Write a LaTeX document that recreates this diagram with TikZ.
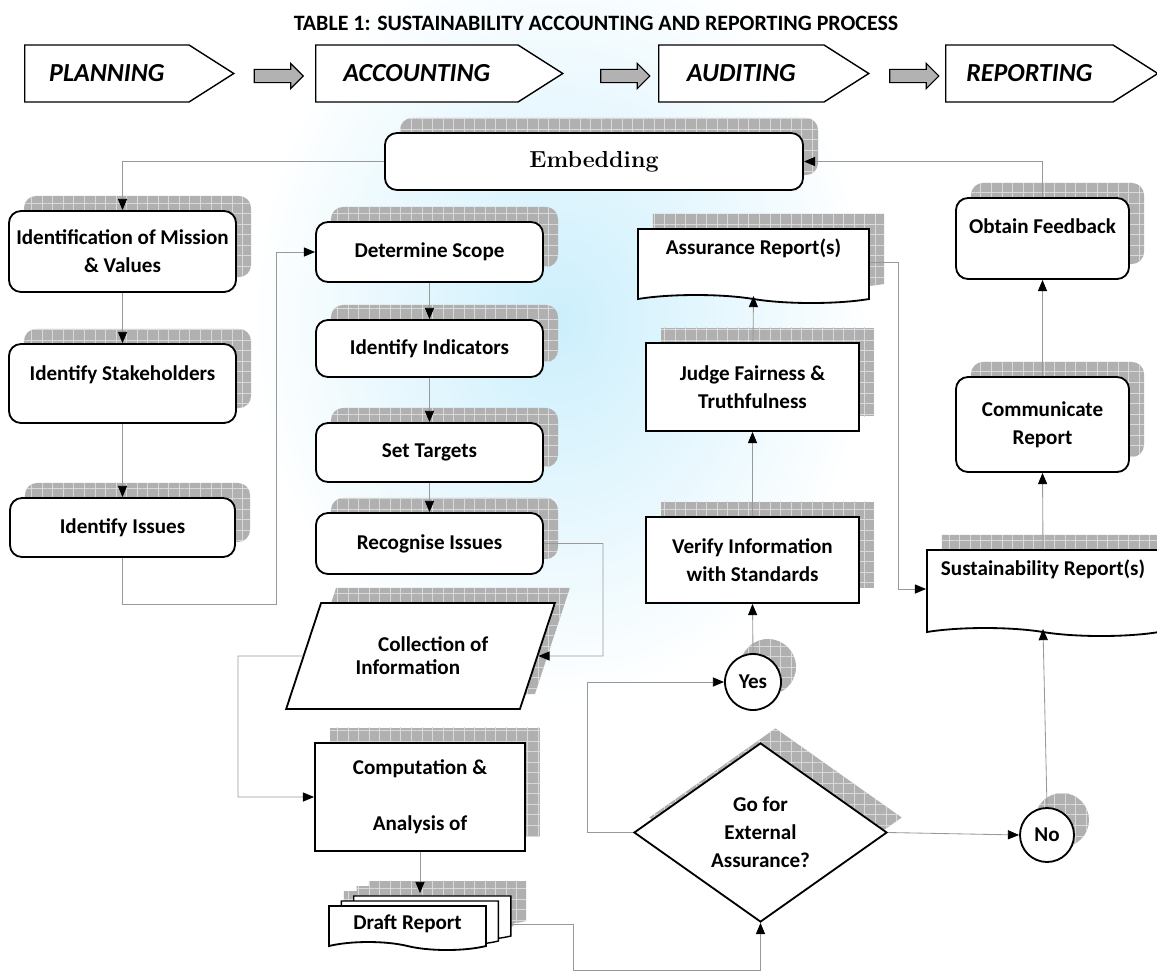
\documentclass[tikz,border=0pt]{standalone}
\usepackage{fontspec}
\setsansfont{Carlito}
\usetikzlibrary{shapes.geometric, shapes.symbols, shapes.arrows, arrows.meta, shadows, patterns.meta, fadings}
\tikzfading[name=glow, inner color=transparent!0, outer color=transparent!100]

\begin{document}
\begin{tikzpicture}[x=0.025cm, y=-0.025cm,
    gshadow/.style 2 args={
        general shadow={shadow xshift=#1, shadow yshift=#2, fill=gray!62, draw=none},
        general shadow={shadow xshift=#1, shadow yshift=#2, draw=none,
            pattern={Hatch[angle=0, distance=7.5pt, line width=0.5pt]}, pattern color=gray!30}},
    gridshadow/.style={gshadow={0.375cm}{0.375cm}},
    lbl/.style={font=\sffamily\bfseries\fontsize{15}{20}\selectfont, align=center},
    rbox/.style={rectangle, draw, line width=1.3pt, rounded corners=0.3cm, fill=white,
                 inner sep=2pt, lbl, gridshadow},
    sbox/.style={rectangle, draw, line width=1.3pt, fill=white, inner sep=2pt, lbl, gridshadow},
    docbox/.style={tape, tape bend top=none, tape bend bottom=out and in, tape bend height=0.2cm,
                   draw, line width=1.3pt, fill=white, inner sep=2pt, lbl},
    iobox/.style={trapezium, trapezium left angle=58, trapezium right angle=122,
                  trapezium stretches=true, draw, line width=1.3pt, fill=white, inner sep=0pt,
                  lbl, gridshadow},
    decision/.style={diamond, draw, line width=1.3pt, fill=white, inner sep=0pt, lbl, gridshadow},
    term/.style={circle, draw, line width=1.3pt, fill=white, inner sep=0pt,
                 minimum size=1.4cm, lbl, gridshadow},
    phase/.style={signal, signal to=east, signal pointer angle=65, draw, line width=1pt,
                  fill=white, minimum height=1.425cm, inner sep=2pt, anchor=west,
                  font=\sffamily\bfseries\itshape\fontsize{18.5}{22}\selectfont},
    flowarrow/.style={single arrow, draw, line width=0.8pt, fill=gray!60, inner sep=0.15cm,
                      minimum height=1.225cm, single arrow head extend=0.15cm},
    conn/.style={draw=gray!80, line width=0.6pt,
                 -{Triangle[length=8pt, width=6.5pt, color=black, fill=black]}},
]
\useasboundingbox (0,0) rectangle (1157,973);

% ---------- background glow ----------
\fill[cyan!20, path fading=glow] (250,-60) rectangle (870,700);

% ---------- title and phases ----------
\node[font=\sffamily\bfseries\fontsize{15.6}{18}\selectfont] (title) at (596,23)
     {TABLE 1: SUSTAINABILITY ACCOUNTING AND REPORTING PROCESS};

\node[phase, minimum width=5.225cm] (plan)   at (24,73.5)  {PLANNING};
\node[phase, minimum width=6.175cm] (acct)   at (315,73.5) {ACCOUNTING};
\node[phase, minimum width=5.25cm]  (audit)  at (658,73.5) {AUDITING};
\node[phase, minimum width=5.3cm]   (report) at (945,73.5) {REPORTING};

\node[flowarrow] (go1) at (275.5,76) {};
\node[flowarrow] (go2) at (622,76)   {};
\node[flowarrow] (go3) at (911,76)   {};

% ---------- embedding ----------
\node[rbox, minimum width=10.45cm, minimum height=1.425cm,
      font=\rmfamily\bfseries\fontsize{16.5}{19}\selectfont] (embed) at (594,161.5) {Embedding};

% ---------- planning column ----------
\node[rbox, minimum width=5.675cm, minimum height=2.025cm] (mission) at (122.5,251.5)
     {Identification of Mission\\\& Values};
\node[rbox, minimum width=5.675cm, minimum height=1.975cm] (stake)   at (122.5,383.5)
     {Identify Stakeholders\\[-5.6pt]\mbox{}};
\node[rbox, minimum width=5.625cm, minimum height=1.475cm] (issues)  at (122.5,527.5)
     {Identify Issues};

% ---------- accounting column ----------
\node[rbox, minimum width=5.675cm, minimum height=1.5cm]   (scope)   at (429.5,252)   {Determine Scope};
\node[rbox, minimum width=5.675cm, minimum height=1.425cm] (indic)   at (429.5,348.5) {Identify Indicators};
\node[rbox, minimum width=5.675cm, minimum height=1.475cm] (targets) at (429.5,452.5) {Set Targets};
\node[rbox, minimum width=5.675cm, minimum height=1.525cm] (recog)   at (429.5,543.5) {Recognise Issues};

\node[iobox, minimum width=6.725cm, minimum height=2.65cm] (collect) at (420.5,656)
     {\hspace*{1.2em}Collection of\\[-3.6pt]Information\hspace*{1.2em}};
\node[sbox, minimum width=5.25cm, minimum height=2.7cm] (comp) at (420,797)
     {Computation \&\\[20pt]Analysis of};
\node[docbox, minimum width=3.925cm, minimum height=1.1cm,
      gshadow={0.375cm}{0.375cm}, gshadow={0.69cm}{0.5cm}, gshadow={1.0cm}{0.625cm},
      double copy shadow={shadow xshift=0.31cm, shadow yshift=0.125cm,
                          fill=white, draw=black, line width=1pt}] (draft) at (407.5,924)
     {Draft Report};

% ---------- auditing column ----------
\node[docbox, gridshadow, minimum width=5.775cm, minimum height=1.85cm] (assur) at (753.5,262)
     {Assurance Report(s)\\[1.4pt]\mbox{}};
\node[sbox, minimum width=5.325cm, minimum height=2.2cm]  (judge)  at (752.5,387)
     {Judge Fairness \&\\Truthfulness};
\node[sbox, minimum width=5.325cm, minimum height=2.15cm] (verify) at (752.5,560)
     {Verify Information\\with Standards};
\node[term] (yes) at (753,682) {Yes};
\node[decision, minimum width=6.325cm, minimum height=4.475cm] (decide) at (760.5,832.5)
     {Go for\\External\\Assurance?};
\node[term, minimum size=1.35cm] (no) at (1047,835) {No};

% ---------- reporting column ----------
\node[docbox, gridshadow, minimum width=5.8cm, minimum height=2.15cm] (sustain) at (1043,589)
     {Sustainability Report(s)\\[10pt]\mbox{}};
\node[rbox, minimum width=4.325cm, minimum height=2.375cm] (comm)     at (1042.5,424.5)
     {Communicate\\Report};
\node[rbox, minimum width=4.325cm, minimum height=2.025cm] (feedback) at (1042.5,238.5)
     {Obtain Feedback\\[-2.8pt]\mbox{}};

% ---------- bends ----------
\coordinate (jogI) at (276,604);
\coordinate (jogR) at (603,656);
\coordinate (jogC) at (238,656);
\coordinate (jogD) at (573,970);
\coordinate (jogY) at (587,832.5);
\coordinate (jogS) at (898,589);
\coordinate (drafttop) at ([yshift=0.3cm]draft.north);

% ---------- planning flow ----------
\draw[conn] (embed.west) -| (mission.north);
\draw[conn] (mission) -- (stake);
\draw[conn] (stake) -- (issues);
\draw[conn] (issues.south) |- (jogI) |- (scope.west);

% ---------- accounting flow ----------
\draw[conn] (scope) -- (indic);
\draw[conn] (indic) -- (targets);
\draw[conn] (targets) -- (recog);
\draw[conn] (recog.east) -| (jogR) -- (collect.east);
\draw[conn] (collect.west) -- (jogC) |- (comp.west);
\draw[conn] (comp.south) -- (comp.south |- drafttop);
\draw[conn] ([xshift=0.65cm]draft.east) -| (jogD) -| (decide.south);

% ---------- auditing flow ----------
\draw[conn] (decide.west) -- (jogY) |- (yes.west);
\draw[conn] (yes.north) -- (verify.south);
\draw[conn] (verify) -- (judge);
\draw[conn] (judge) -- (assur.south);
\draw[conn] (assur.east) -| (jogS) -- (sustain.west);

% ---------- reporting flow ----------
\draw[conn] (decide.east) -- (no.west);
\draw[conn] (no.north) -- (sustain.south);
\draw[conn] (sustain.north) -- (comm.south);
\draw[conn] (comm) -- (feedback);
\draw[conn] (feedback.north) |- (embed.east);

\end{tikzpicture}
\end{document}
